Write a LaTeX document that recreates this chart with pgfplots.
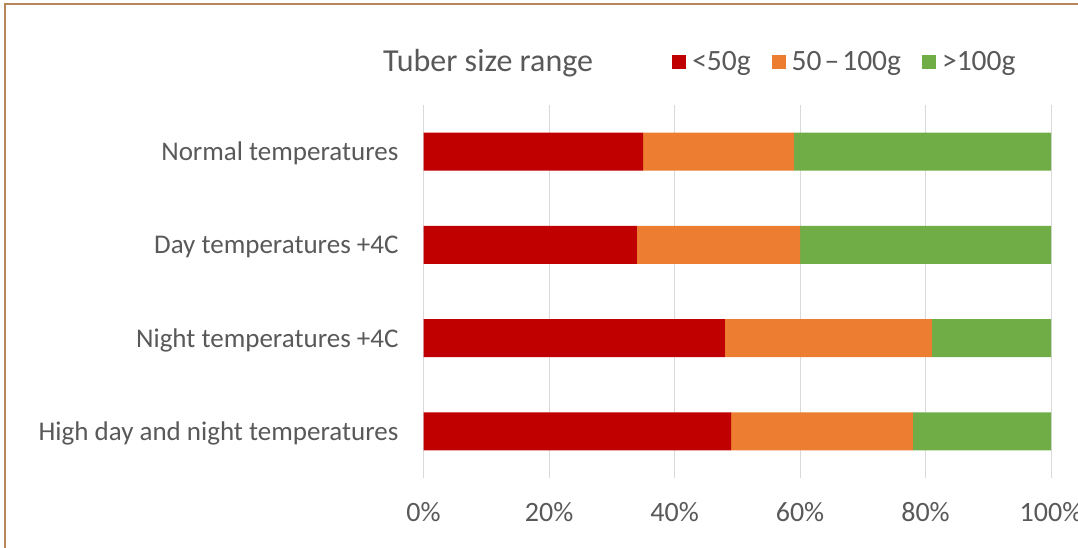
\documentclass[border=0pt]{standalone}
\usepackage{pgfplots}
\pgfplotsset{compat=1.18}
\usepackage{fontspec}
\setmainfont{Carlito}

\definecolor{cRed}{HTML}{C00000}
\definecolor{cOrange}{HTML}{ED7D31}
\definecolor{cGreen}{HTML}{70AD47}
\definecolor{txt}{HTML}{595959}
\definecolor{gridc}{HTML}{D9D9D9}
\definecolor{frame}{HTML}{B8865B}

\begin{document}
\begin{tikzpicture}
\useasboundingbox (0pt,0pt) rectangle (1078pt,548pt);
% frame lines along the top and left edges
\draw[frame, line width=2pt] (4.5pt,0pt) -- (4.5pt,543.5pt) -- (1078pt,543.5pt);

\node[anchor=base west, text=txt, font=\fontsize{32}{38}\selectfont, inner sep=0pt]
  at (383pt,476pt) {Tuber size range};

\begin{axis}[
  at={(423.6pt,70pt)}, anchor=south west,
  scale only axis, width=627.4pt, height=373pt,
  xbar stacked, bar width=38pt,
  xmin=0, xmax=100, ymin=-0.5, ymax=3.5,
  axis line style={draw=none},
  major tick style={draw=none},
  xtick={0,20,40,60,80,100},
  xmajorgrids, grid style={gridc, line width=1pt},
  xticklabel={\pgfmathprintnumber{\tick}\%},
  /pgf/number format/assume math mode=true,
  xticklabel style={anchor=base, yshift=-44pt, text=txt, font=\fontsize{28}{33}\selectfont},
  ytick={0,1,2,3},
  yticklabels={High day and night temperatures, Night temperatures +4C, Day temperatures +4C, Normal temperatures},
  yticklabel style={anchor=base east, xshift=-25pt, yshift=-9pt, text=txt, font=\fontsize{27}{32}\selectfont, inner sep=0pt},
  legend columns=-1,
  legend style={at={(0.396,1.115)}, anchor=west, draw=none, fill=none,
    inner sep=0pt, font=\fontsize{29.5}{36}\selectfont, text=txt,
    /tikz/every even column/.append style={column sep=21pt},
    nodes={inner sep=0pt}},
  legend image code/.code={\fill[#1,draw=none] (0pt,-7pt) rectangle (14pt,7pt);},
  legend cell align=left,
]
\addplot[fill=cRed, draw=none] coordinates {(49,0) (48,1) (34,2) (35,3)};
\addlegendentry{\hspace{6pt}<50g}
\addplot[fill=cOrange, draw=none] coordinates {(29,0) (33,1) (26,2) (24,3)};
\addlegendentry{\hspace{6pt}50\hspace{3pt}–\hspace{3pt}100g}
\addplot[fill=cGreen, draw=none] coordinates {(22,0) (19,1) (40,2) (41,3)};
\addlegendentry{\hspace{6pt}>100g}
\end{axis}
\end{tikzpicture}
\end{document}
